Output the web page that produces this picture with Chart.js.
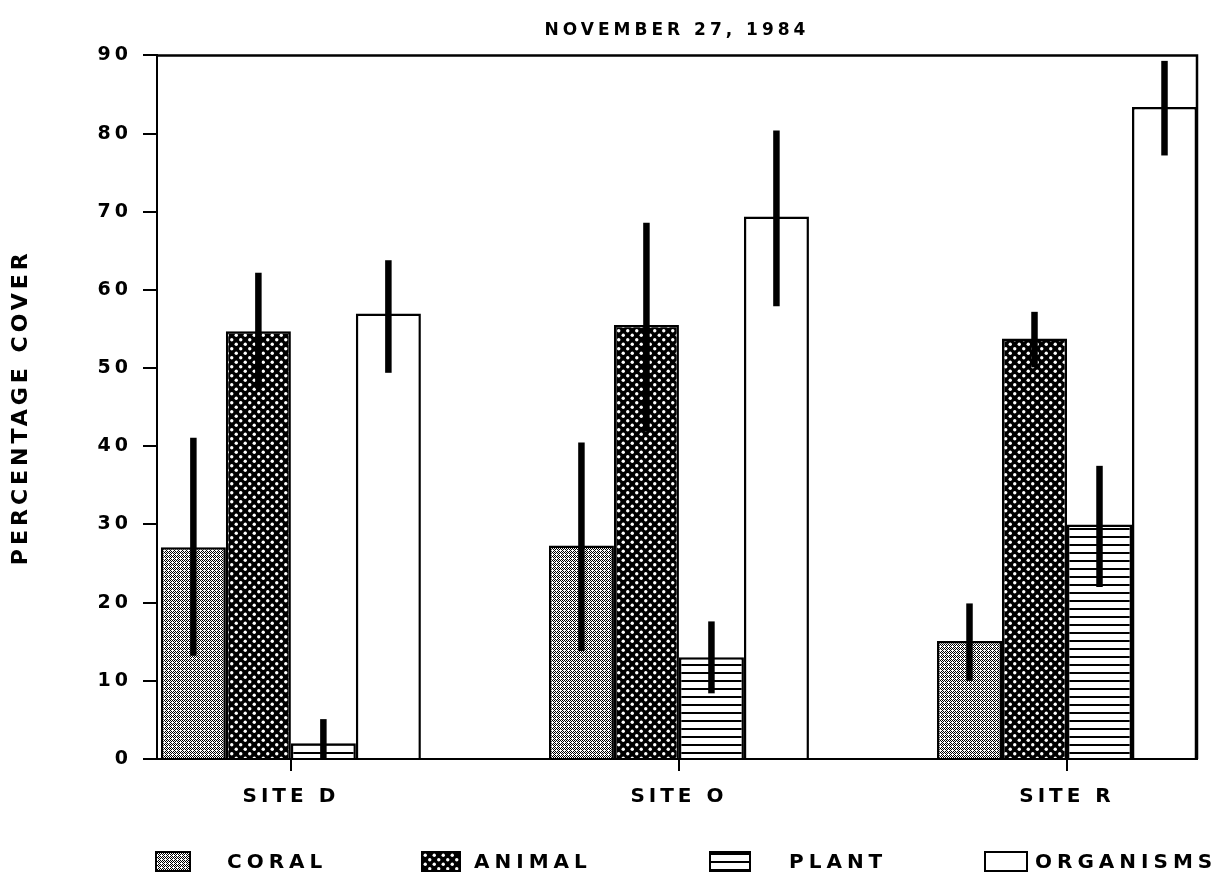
<!DOCTYPE html>
<html>
<head>
<meta charset="utf-8">
<title>Percentage cover</title>
<script src="https://cdn.jsdelivr.net/npm/chart.js@4.4.1/dist/chart.umd.min.js"></script>
<style>
    html, body { margin: 0; padding: 0; background: #fff; }
    #wrap { position: relative; width: 1229px; height: 881px; }
    #legend {
        position: absolute; left: 0; top: 849px; width: 1229px; height: 24px;
        font: bold 20px "DejaVu Sans", sans-serif; letter-spacing: 5px; color: #000;
    }
    .item { position: absolute; top: 0; height: 24px; display: flex; align-items: center; }
    .swatch { height: 21px; border: 2px solid #000; box-sizing: border-box; background-color: #fff; }
</style>
</head>
<body>
<div id="wrap">
    <canvas id="coverChart" width="1229" height="881"></canvas>
    <div id="legend"></div>
</div>
<script>
const sites = ["SITE D", "SITE O", "SITE R"];
const siteX = [0, 1, 2];

// mean cover per site, with the low / high ends of each error bar
const coral = [27.1, 27.3, 15.1];
const coralLow = [13.2, 13.8, 10.0];
const coralHigh = [41.1, 40.5, 19.9];

const animal = [54.7, 55.5, 53.8];
const animalLow = [47.4, 41.9, 50.1];
const animalHigh = [62.2, 68.6, 57.2];

const plant = [2.0, 13.0, 30.0];
const plantLow = [0, 8.4, 22.0];
const plantHigh = [5.1, 17.6, 37.5];

const organisms = [57.0, 69.4, 83.4];
const organismsLow = [49.4, 57.9, 77.2];
const organismsHigh = [63.8, 80.4, 89.3];

const yMin = 0;
const yMax = 90;
const yStep = 10;

// legend placement (left edge, swatch width, gap before text)
const legendLayout = [
    { left: 155, swatch: 36, gap: 36 },
    { left: 421, swatch: 40, gap: 13 },
    { left: 709, swatch: 42, gap: 38 },
    { left: 984, swatch: 44, gap: 7 },
];

function makeTile(w, h, paint) {
    const c = document.createElement("canvas");
    c.width = w;
    c.height = h;
    paint(c.getContext("2d"));
    return c;
}

// fine grey stipple
const coralTile = makeTile(4, 4, (g) => {
    g.fillStyle = "#fff";
    g.fillRect(0, 0, 4, 4);
    g.fillStyle = "#000";
    [[0, 0], [1, 1], [2, 2], [3, 3], [1, 3], [3, 1], [2, 0]]
        .forEach(([x, y]) => g.fillRect(x, y, 1, 1));
});

// black with white dots
const animalTile = makeTile(9, 9, (g) => {
    g.fillStyle = "#000";
    g.fillRect(0, 0, 9, 9);
    g.fillStyle = "#fff";
    [[2.25, 2.25], [6.75, 6.75]].forEach(([x, y]) => {
        g.beginPath();
        g.arc(x, y, 1.7, 0, Math.PI * 2);
        g.fill();
    });
});

// horizontal rules
const plantTile = makeTile(1, 8, (g) => {
    g.fillStyle = "#fff";
    g.fillRect(0, 0, 1, 8);
    g.fillStyle = "#000";
    g.fillRect(0, 0, 1, 2);
});

const canvas = document.getElementById("coverChart");
const ctx = canvas.getContext("2d");

const points = (vals) => vals.map((v, i) => ({ x: siteX[i], y: v }));

const datasets = [
    { label: "CORAL", data: points(coral), errLow: coralLow, errHigh: coralHigh,
      backgroundColor: ctx.createPattern(coralTile, "repeat"), tile: coralTile },
    { label: "ANIMAL", data: points(animal), errLow: animalLow, errHigh: animalHigh,
      backgroundColor: ctx.createPattern(animalTile, "repeat"), tile: animalTile },
    { label: "PLANT", data: points(plant), errLow: plantLow, errHigh: plantHigh,
      backgroundColor: ctx.createPattern(plantTile, "repeat"), tile: plantTile },
    { label: "ORGANISMS", data: points(organisms), errLow: organismsLow, errHigh: organismsHigh,
      backgroundColor: "#fff", tile: null },
];
datasets.forEach((ds) => {
    ds.borderColor = "#000";
    ds.borderWidth = 2.5;
    ds.categoryPercentage = 0.67;
    ds.barPercentage = 1.0;
});

const spacing = {
    id: "spacing",
    beforeLayout(chart) { chart.ctx.letterSpacing = "4px"; },
    beforeDraw(chart) { chart.ctx.letterSpacing = "4px"; },
};

const errorBars = {
    id: "errorBars",
    afterDatasetsDraw(chart) {
        const c = chart.ctx;
        const y = chart.scales.y;
        c.save();
        c.strokeStyle = "#000";
        c.lineWidth = 6.5;
        c.lineCap = "butt";
        chart.data.datasets.forEach((ds, i) => {
            chart.getDatasetMeta(i).data.forEach((bar, j) => {
                c.beginPath();
                c.moveTo(bar.x, y.getPixelForValue(ds.errLow[j]));
                c.lineTo(bar.x, y.getPixelForValue(ds.errHigh[j]));
                c.stroke();
            });
        });
        c.restore();
    },
};

// top and right edges of the plot box
const frame = {
    id: "frame",
    afterDraw(chart) {
        const c = chart.ctx;
        const a = chart.chartArea;
        c.save();
        c.strokeStyle = "#000";
        c.lineWidth = 2.5;
        c.beginPath();
        c.moveTo(a.left, a.top);
        c.lineTo(a.right, a.top);
        c.lineTo(a.right, a.bottom);
        c.stroke();
        c.restore();
    },
};

Chart.defaults.font.family = "'DejaVu Sans', sans-serif";
Chart.defaults.color = "#000";

const chart = new Chart(canvas, {
    type: "bar",
    data: { datasets },
    options: {
        responsive: false,
        animation: false,
        layout: { padding: { top: 0, right: 32, bottom: 58, left: 0 } },
        plugins: {
            legend: { display: false },
            tooltip: { enabled: false },
            title: {
                display: true,
                text: "NOVEMBER 27, 1984",
                fullSize: false,
                font: { size: 17, weight: "bold" },
                color: "#000",
                padding: { top: 20, bottom: 15 },
            },
        },
        scales: {
            x: {
                type: "linear",
                offset: false,
                min: -0.345,
                max: 2.335,
                afterBuildTicks: (scale) => {
                    scale.ticks = siteX.map((v) => ({ value: v }));
                },
                ticks: {
                    callback: (value) => sites[value],
                    font: { size: 20, weight: "bold" },
                    color: "#000",
                    padding: 14,
                    maxRotation: 0,
                    autoSkip: false,
                },
                grid: { offset: false, drawOnChartArea: false, tickLength: 12, color: "#000", lineWidth: 2 },
                border: { color: "#000", width: 2 },
            },
            y: {
                min: yMin,
                max: yMax,
                ticks: {
                    stepSize: yStep,
                    font: { size: 19, weight: "bold" },
                    color: "#000",
                    padding: 11,
                },
                grid: { drawOnChartArea: false, tickLength: 14, color: "#000", lineWidth: 2 },
                border: { color: "#000", width: 2 },
                title: {
                    display: true,
                    text: "PERCENTAGE COVER",
                    font: { size: 22, weight: "bold" },
                    color: "#000",
                    padding: { top: 8, bottom: 0 },
                },
                afterFit: (scale) => { scale.width = 157; },
            },
        },
    },
    plugins: [spacing, errorBars, frame],
});

// legend built from the chart's datasets
const legendEl = document.getElementById("legend");
chart.data.datasets.forEach((ds, i) => {
    const pos = legendLayout[i];
    const item = document.createElement("div");
    item.className = "item";
    item.style.left = pos.left + "px";
    const sw = document.createElement("div");
    sw.className = "swatch";
    sw.style.width = pos.swatch + "px";
    if (ds.tile) sw.style.backgroundImage = "url(" + ds.tile.toDataURL() + ")";
    const txt = document.createElement("span");
    txt.style.marginLeft = pos.gap + "px";
    txt.textContent = ds.label;
    item.appendChild(sw);
    item.appendChild(txt);
    legendEl.appendChild(item);
});
</script>
</body>
</html>
